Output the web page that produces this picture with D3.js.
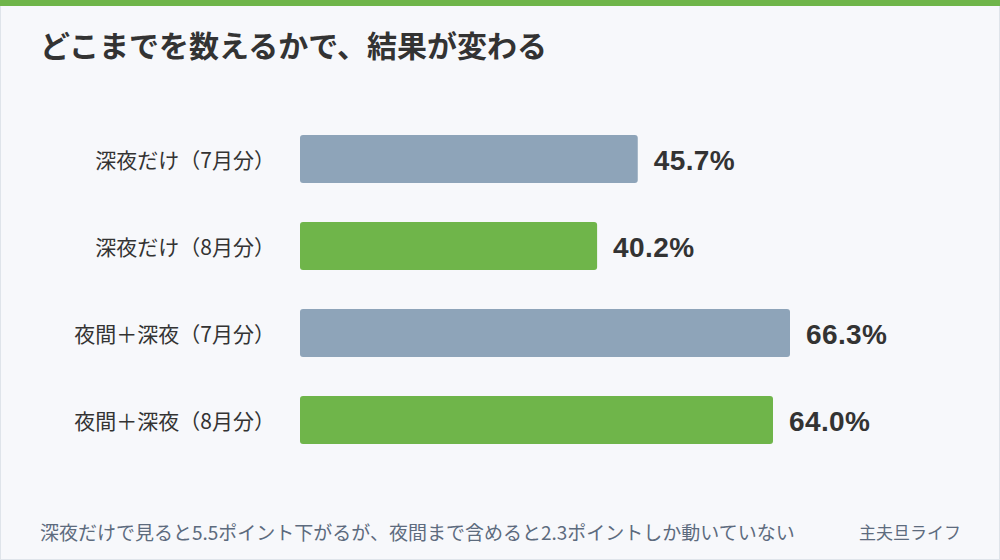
<!DOCTYPE html>
<html>
<head>
<meta charset="utf-8">
<script src="https://cdn.jsdelivr.net/npm/d3@7"></script>
<style>
  html, body { margin: 0; padding: 0; background: #f7f8fb; }
  svg { display: block; }
</style>
</head>
<body>
<div id="chart"></div>
<script>
const categories = ['深夜だけ（7月分）', '深夜だけ（8月分）', '夜間＋深夜（7月分）', '夜間＋深夜（8月分）'];
const values = [45.7, 40.2, 66.3, 64.0];
const months = ['7月', '8月', '7月', '8月'];
const title = 'どこまでを数えるかで、結果が変わる';
const note = '深夜だけで見ると5.5ポイント下がるが、夜間まで含めると2.3ポイントしか動いていない';
const credit = '主夫旦ライフ';

const W = 1000, H = 560;
const font = '"Noto Sans CJK JP", "Noto Sans", sans-serif';
const numFont = '"Liberation Sans", Arial, sans-serif';
const colors = { '7月': '#8ea4b9', '8月': '#6fb54a' };

const svg = d3.select('#chart').append('svg')
    .attr('width', W)
    .attr('height', H);

// frame + top stripe
svg.append('rect')
    .attr('x', 0.5).attr('y', 0.5)
    .attr('width', W - 1).attr('height', H - 1)
    .attr('fill', '#f7f8fb')
    .attr('stroke', '#dfe4ea');
svg.append('rect')
    .attr('x', 0).attr('y', 0)
    .attr('width', W).attr('height', 6)
    .attr('fill', '#6fb54a');

svg.append('text')
    .attr('x', 40)
    .attr('y', 57)
    .style('font-family', font)
    .style('font-size', '30px')
    .style('font-weight', '700')
    .attr('fill', '#333333')
    .text(title);

const x = d3.scaleLinear()
    .domain([0, d3.max(values)])
    .range([300, 790]);

// 48px bars on an 87px step
const y = d3.scaleBand()
    .domain(categories)
    .range([135, 444])
    .paddingInner(39 / 87)
    .paddingOuter(0);

const rows = categories.map((c, i) => ({ cat: c, val: values[i], month: months[i] }));

const g = svg.append('g');

g.selectAll('rect.bar')
    .data(rows)
    .join('rect')
    .attr('class', 'bar')
    .attr('x', x(0))
    .attr('y', d => y(d.cat))
    .attr('width', d => x(d.val) - x(0))
    .attr('height', y.bandwidth())
    .attr('rx', 3)
    .attr('fill', d => colors[d.month]);

g.selectAll('text.cat')
    .data(rows)
    .join('text')
    .attr('class', 'cat')
    .attr('x', 275)
    .attr('y', d => y(d.cat) + y.bandwidth() / 2)
    .attr('text-anchor', 'end')
    .attr('dominant-baseline', 'central')
    .style('font-family', font)
    .style('font-size', '21px')
    .attr('fill', '#333333')
    .text(d => d.cat);

g.selectAll('text.val')
    .data(rows)
    .join('text')
    .attr('class', 'val')
    .attr('x', d => x(d.val) + 16)
    .attr('y', d => y(d.cat) + y.bandwidth() / 2 + 1)
    .attr('dominant-baseline', 'central')
    .style('font-family', numFont)
    .style('font-size', '28px')
    .style('font-weight', '700')
    .style('letter-spacing', '0.4px')
    .attr('fill', '#333333')
    .text(d => d.val.toFixed(1) + '%');

svg.append('text')
    .attr('x', 40)
    .attr('y', 531)
    .attr('dominant-baseline', 'central')
    .style('font-family', font)
    .style('font-size', '19px')
    .attr('fill', '#5d6b7e')
    .text(note);

svg.append('text')
    .attr('x', 961)
    .attr('y', 531)
    .attr('text-anchor', 'end')
    .attr('dominant-baseline', 'central')
    .style('font-family', font)
    .style('font-size', '17px')
    .attr('fill', '#5d6b7e')
    .text(credit);
</script>
</body>
</html>
